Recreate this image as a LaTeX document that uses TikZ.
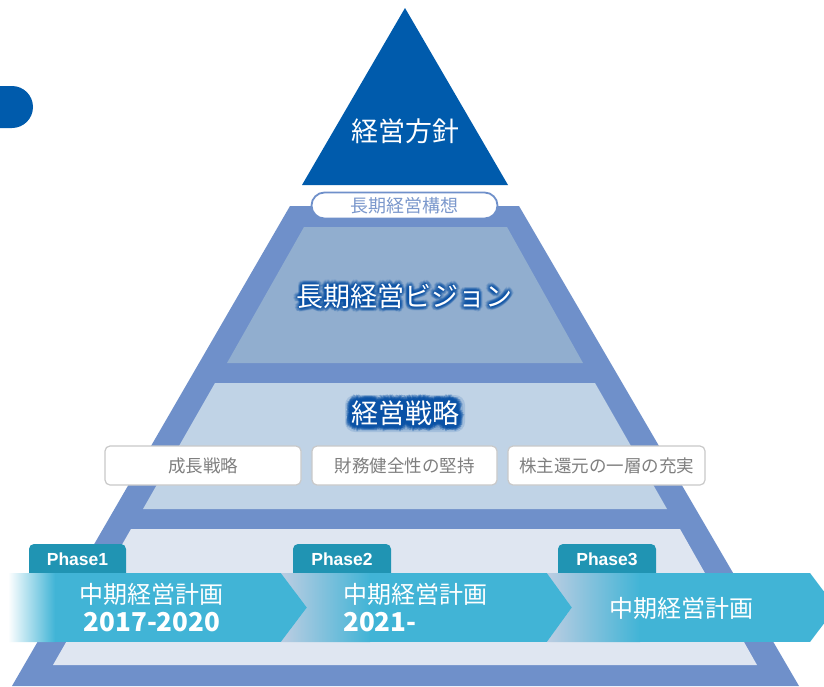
\documentclass[tikz,border=0pt]{standalone}
\usepackage{fontspec}
\newfontfamily\jp{Noto Sans CJK JP}
\newfontfamily\lib{Liberation Sans}
\usetikzlibrary{calc}
\definecolor{navy}{HTML}{005BAC}
\definecolor{frame}{HTML}{6F90CA}
\definecolor{vis}{HTML}{91AECF}
\definecolor{strat}{HTML}{C0D3E6}
\definecolor{phaseband}{HTML}{DFE6F1}
\definecolor{tabc}{HTML}{2094B3}
\definecolor{arrowc}{HTML}{41B4D6}
\definecolor{fadec}{HTML}{BCCDE2}
\definecolor{labelc}{HTML}{7B98CC}
\definecolor{greytext}{HTML}{7F7F7F}
\definecolor{greyline}{HTML}{C9C9C9}
\definecolor{glowc}{HTML}{0A52A6}
\tikzset{
  jpfont/.style={font={\jp\fontsize{#1}{#1}\selectfont}},
  txt/.style={inner sep=0pt, text=white},
  subbox/.style={draw=greyline, line width=1.2pt, fill=white, rounded corners=5pt,
    minimum height=39pt, inner sep=0pt, text=greytext, jpfont=17.5},
  phasetab/.style={fill=tabc, rounded corners=5pt},
  phasetxt/.style={inner sep=0pt, text=white, font={\lib\bfseries\fontsize{17.5}{17.5}\selectfont}},
}
\newcommand\glowtext[5]{% name, position, text, max radius, opacity
  \foreach \r in {1,...,#4}{%
    \foreach \a [count=\k] in {0,22.5,...,337.5}{%
      \node[txt, text=glowc, opacity=#5, jpfont=27] (#1-\r-\k) at ($(#2)+(\a:\r)$) {#3};
    }}%
  \node[txt, jpfont=27] (#1) at (#2) {#3};
}
\begin{document}
\begin{tikzpicture}[x=1pt,y=-1pt]
\useasboundingbox (0,0) rectangle (824,686);
\clip (0,0) rectangle (824,686);
\fill[white] (0,0) rectangle (824,686);

% left tab
\fill[navy, rounded corners=21pt] (-40,86) rectangle (33,128);

% top triangle
\fill[navy] (405,8) -- (508,185) -- (302,185) -- cycle;
\node[txt, jpfont=27] (policy) at (405,131) {経営方針};

% pyramid
\fill[frame] (290,206) -- (519,206) -- (799,686) -- (12,686) -- cycle;
\fill[vis] (304,227) -- (507,227) -- (583,363) -- (227,363) -- cycle;
\fill[strat] (215,383) -- (595,383) -- (667,509) -- (143,509) -- cycle;
\fill[phaseband] (131,529) -- (680,529) -- (757,665) -- (53,665) -- cycle;

% label
\node[draw=frame, line width=1.8pt, fill=white, rounded corners=13pt,
  minimum width=186pt, minimum height=26pt, inner sep=0pt,
  text=labelc, jpfont=18] (concept) at (404.5,205.5) {長期経営構想};

% vision and strategy titles
\glowtext{vision}{404,296}{長期経営ビジョン}{4}{0.13}
\foreach \d/\o in {0/0.15,2/0.15,4/0.15}{
  \fill[glowc, opacity=\o, rounded corners=10pt] (349-\d,399-\d) rectangle (461+\d,428+\d);
}
\glowtext{strategy}{405,413}{経営戦略}{6}{0.28}

% sub boxes
\node[subbox, minimum width=196pt] (growth) at (203,465.5) {成長戦略};
\node[subbox, minimum width=185pt] (finance) at (404.5,465.5) {財務健全性の堅持};
\node[subbox, minimum width=197pt] (return) at (606.5,465.5) {株主還元の一層の充実};

% phase tabs
\fill[phasetab] (29,585) rectangle (126,544);
\fill[phasetab] (293,585) rectangle (391,544);
\fill[phasetab] (558,585) rectangle (656,544);
\node[phasetxt] (p1) at (77.5,559) {Phase1};
\node[phasetxt] (p2) at (342,559) {Phase2};
\node[phasetxt] (p3) at (607,559) {Phase3};

% arrows
\begin{scope}
  \clip (8,573) -- (281,573) -- (307,607.5) -- (281,642) -- (8,642) -- cycle;
  \fill[arrowc] (0,573) rectangle (320,642);
  \shade[left color=white, right color=arrowc] (8,573) rectangle (55,642);
\end{scope}
\begin{scope}
  \clip (281,573) -- (547,573) -- (572,607.5) -- (547,642) -- (281,642) -- (307,607.5) -- cycle;
  \fill[arrowc] (270,573) rectangle (580,642);
  \shade[left color=fadec, right color=arrowc] (281,573) rectangle (370,642);
\end{scope}
\begin{scope}
  \clip (547,573) -- (810,573) -- (836,607.5) -- (810,642) -- (547,642) -- (572,607.5) -- cycle;
  \fill[arrowc] (540,573) rectangle (840,642);
  \shade[left color=fadec, right color=arrowc] (547,573) rectangle (640,642);
\end{scope}

\node[txt, jpfont=24] (plan1) at (151,594) {中期経営計画};
\node[txt, font={\jp\bfseries\fontsize{26}{26}\selectfont}] (year1) at (152,622) {2017-2020};
\node[txt, jpfont=24] (plan2) at (415,594) {中期経営計画};
\node[txt, anchor=west, font={\jp\bfseries\fontsize{26}{26}\selectfont}] (year2) at (343,622) {2021-};
\node[txt, jpfont=24] (plan3) at (681,608) {中期経営計画};
\end{tikzpicture}
\end{document}
